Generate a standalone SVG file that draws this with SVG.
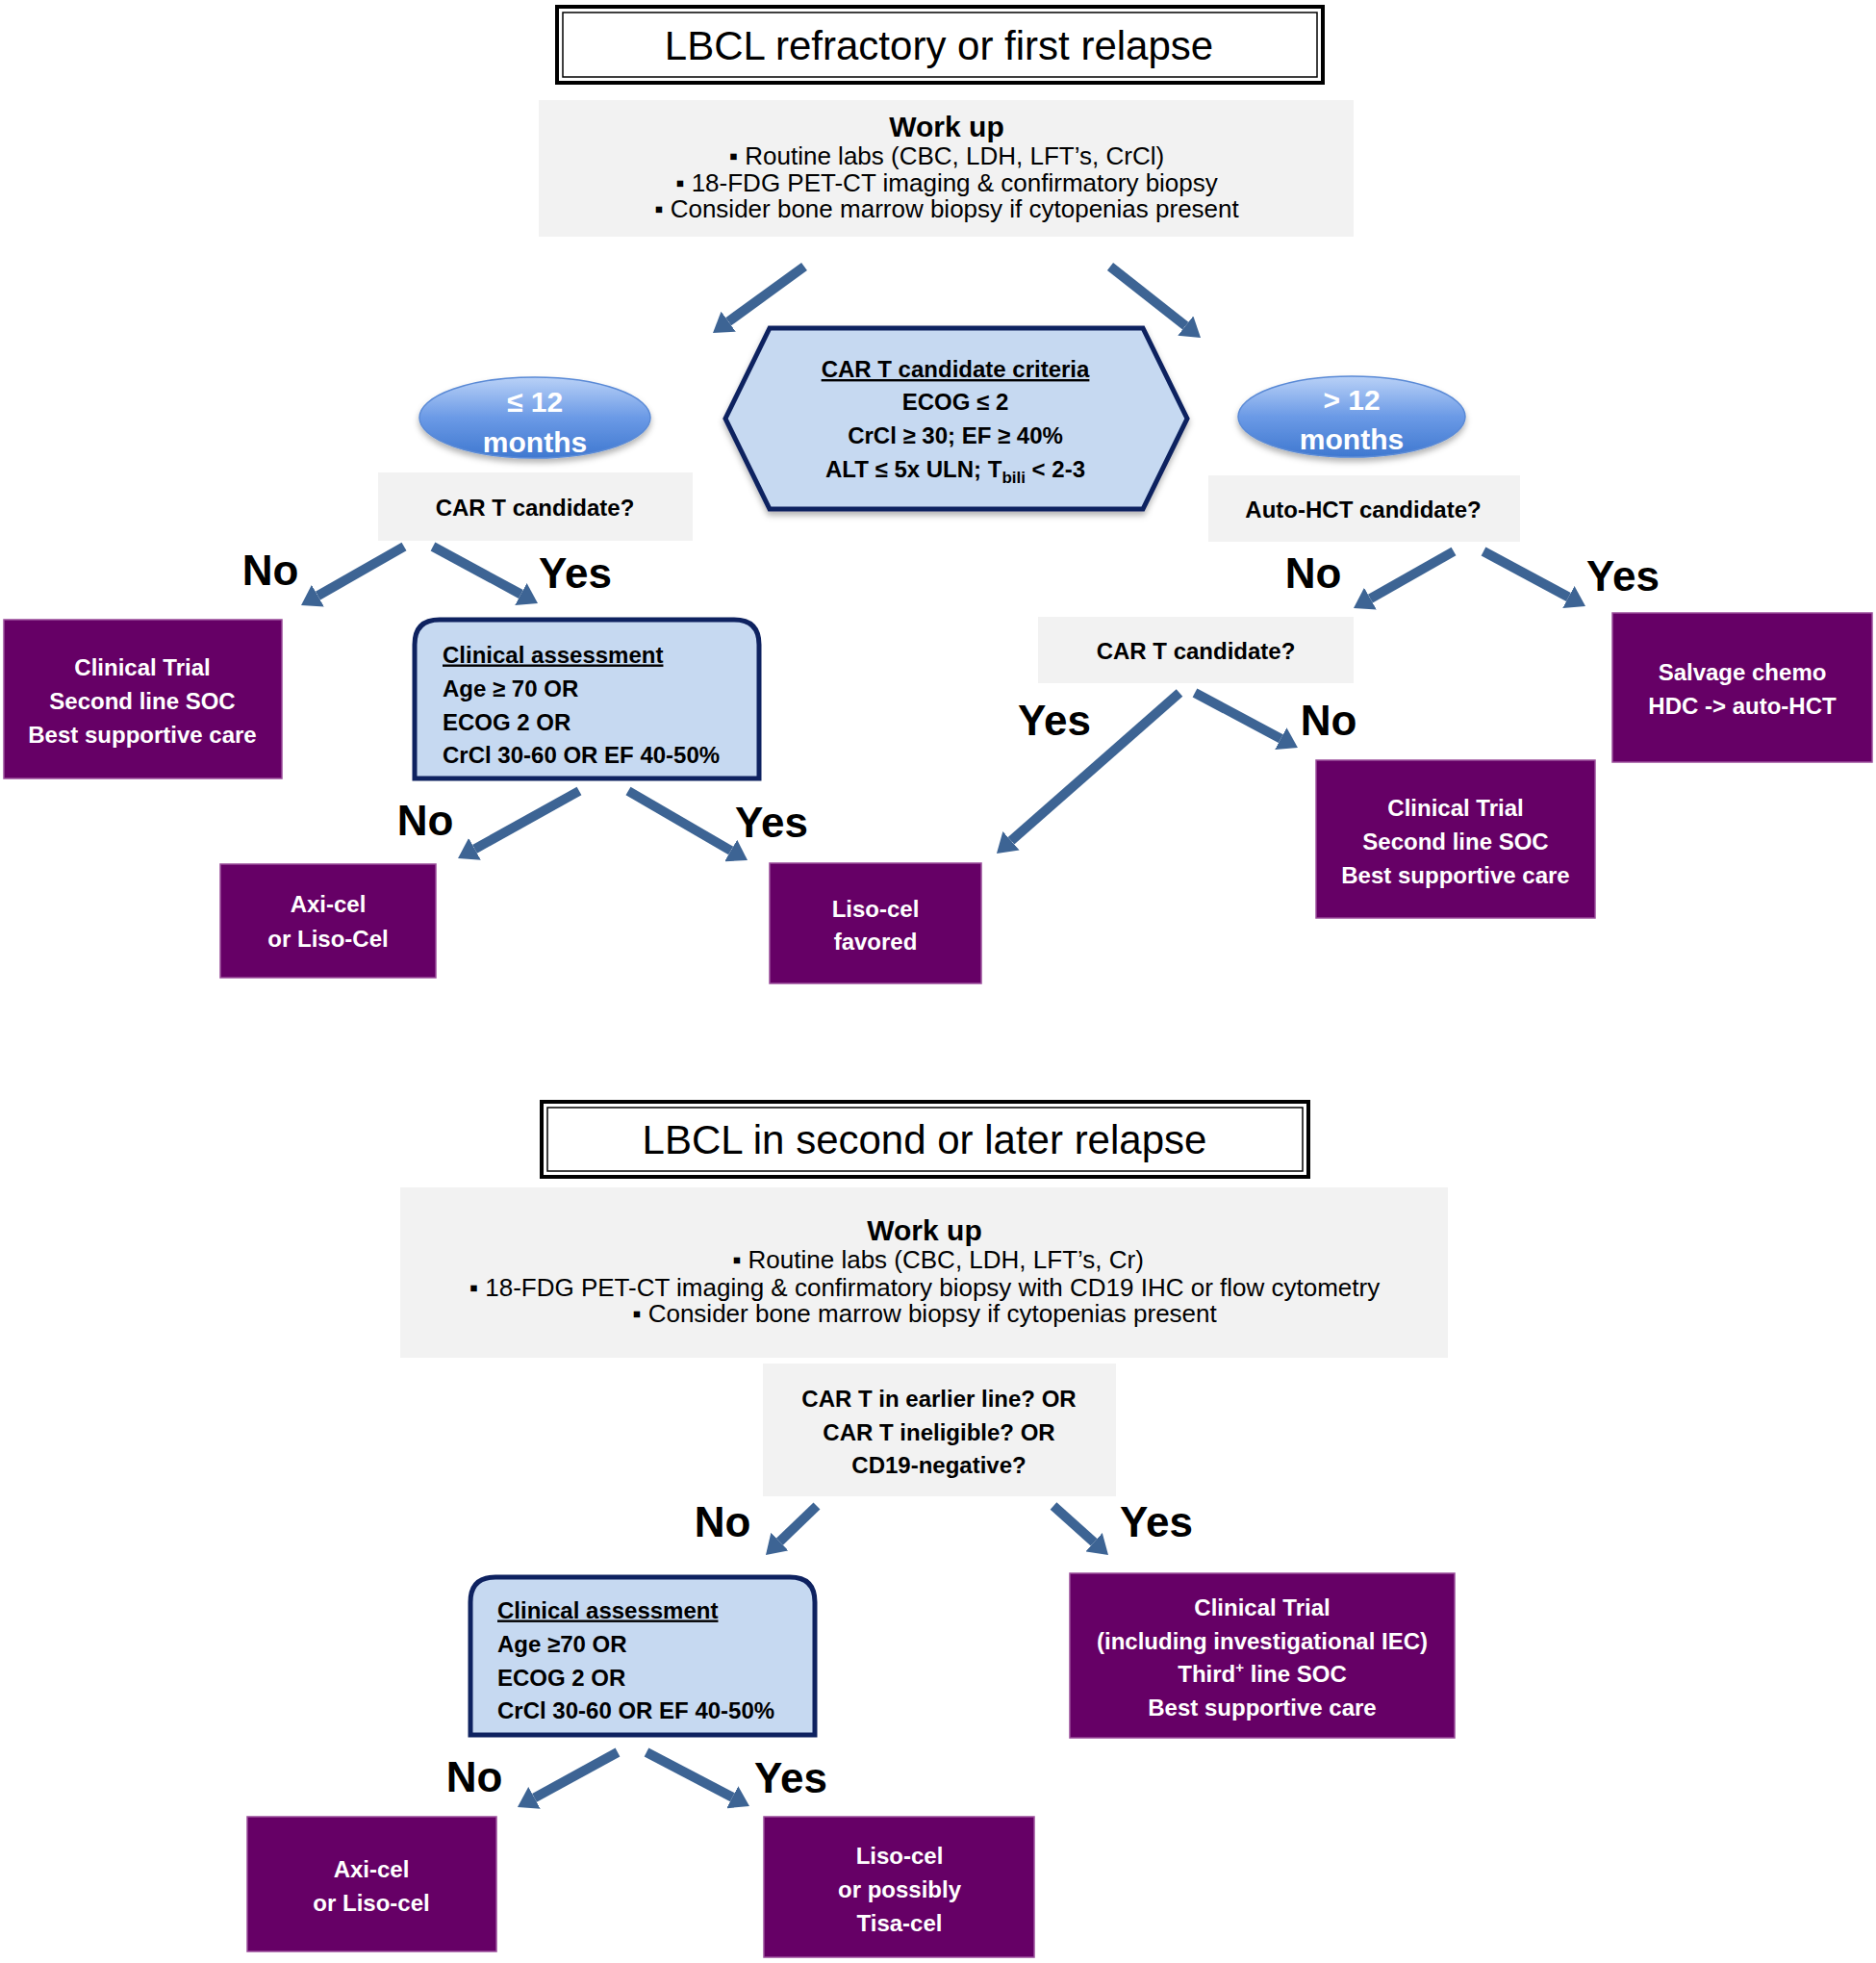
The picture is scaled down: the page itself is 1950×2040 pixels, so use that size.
<svg xmlns="http://www.w3.org/2000/svg" width="1950" height="2040" viewBox="0 0 1950 2040">
<style>
text{font-family:"Liberation Sans",Arial,sans-serif;}
.t{font-size:24px;font-weight:bold;fill:#000;}
.w{font-size:24px;font-weight:bold;fill:#fff;text-anchor:middle;}
.c{text-anchor:middle;}
.lbl{font-size:44px;font-weight:bold;fill:#000;text-anchor:middle;}
.ttl{font-size:42px;fill:#000;text-anchor:middle;}
.wu{font-size:26px;fill:#000;text-anchor:middle;}
.wuh{font-size:30px;font-weight:bold;fill:#000;text-anchor:middle;}
.el{font-size:30px;font-weight:bold;fill:#fff;text-anchor:middle;}
.gray{fill:#f2f2f2;}
.purple{fill:#660066;stroke:#9b4d9b;stroke-width:1.5;}
.blue{fill:#c6d9f1;stroke:#0e2260;stroke-width:5;}
.arr{stroke:#3d6494;stroke-width:10;fill:none;marker-end:url(#ah);}
.u{text-decoration:underline;}
</style>
<defs>
<marker id="ah" markerUnits="userSpaceOnUse" markerWidth="20" markerHeight="26" refX="0" refY="13" orient="auto" viewBox="0 0 20 26">
<path d="M0,0 L20,13 L0,26 Z" fill="#3d6494"/>
</marker>
<linearGradient id="eg" x1="0" y1="0" x2="0" y2="1">
<stop offset="0" stop-color="#b9d1f7"/>
<stop offset="0.5" stop-color="#6b9ae6"/>
<stop offset="1" stop-color="#3f78d0"/>
</linearGradient>
<filter id="sh" x="-10%" y="-10%" width="120%" height="130%">
<feDropShadow dx="0" dy="4" stdDeviation="3" flood-color="#000" flood-opacity="0.3"/>
</filter>
</defs>

<g id="connectors">
<line class="arr" x1="836" y1="277" x2="757.2" y2="334.2"/>
<line class="arr" x1="1154" y1="277" x2="1232.3" y2="338.6"/>
<line class="arr" x1="420" y1="568" x2="330.4" y2="619.1"/>
<line class="arr" x1="450" y1="568" x2="541.4" y2="617.5"/>
<line class="arr" x1="602" y1="822" x2="493.5" y2="882.3"/>
<line class="arr" x1="653" y1="822" x2="759.7" y2="884"/>
<line class="arr" x1="1511" y1="573" x2="1424.4" y2="622.1"/>
<line class="arr" x1="1542" y1="573" x2="1630.4" y2="620.5"/>
<line class="arr" x1="1226" y1="720" x2="1051" y2="873.8"/>
<line class="arr" x1="1242" y1="720" x2="1331.3" y2="767.6"/>
<line class="arr" x1="849" y1="1565" x2="810.4" y2="1602.1"/>
<line class="arr" x1="1095" y1="1565" x2="1137.1" y2="1602.7"/>
<line class="arr" x1="642" y1="1821" x2="555.5" y2="1868.4"/>
<line class="arr" x1="672" y1="1821" x2="761.3" y2="1867.7"/>
<text class="lbl" x="281" y="607.5">No</text>
<text class="lbl" x="598" y="610.5">Yes</text>
<text class="lbl" x="442" y="868">No</text>
<text class="lbl" x="802" y="869.5">Yes</text>
<text class="lbl" x="1365" y="610.5">No</text>
<text class="lbl" x="1687" y="613.5">Yes</text>
<text class="lbl" x="1096" y="763.5">Yes</text>
<text class="lbl" x="1381" y="763.5">No</text>
<text class="lbl" x="751" y="1596.5">No</text>
<text class="lbl" x="1202" y="1596.5">Yes</text>
<text class="lbl" x="493" y="1861.5">No</text>
<text class="lbl" x="822" y="1862.5">Yes</text>
</g>

<g id="title1">
<rect x="579" y="7" width="796" height="79" fill="#fff" stroke="#000" stroke-width="4"/>
<rect x="585" y="13" width="784" height="67" fill="none" stroke="#000" stroke-width="1.5"/>
<text class="ttl" x="976" y="62">LBCL refractory or first relapse</text>
</g>

<g id="workup1">
<rect class="gray" x="560" y="104" width="847" height="142"/>
<text class="wuh" x="984" y="142">Work up</text>
<text class="wu" x="984" y="171">▪ Routine labs (CBC, LDH, LFT’s, CrCl)</text>
<text class="wu" x="984" y="199">▪ 18-FDG PET-CT imaging &amp; confirmatory biopsy</text>
<text class="wu" x="984" y="226">▪ Consider bone marrow biopsy if cytopenias present</text>
</g>

<g id="criteria">
<polygon class="blue" filter="url(#sh)" points="800,341 1188,341 1234,435 1188,529 800,529 754,435"/>
<text class="t c u" x="993" y="392">CAR T candidate criteria</text>
<text class="t c" x="993" y="426">ECOG ≤ 2</text>
<text class="t c" x="993" y="461">CrCl ≥ 30; EF ≥ 40%</text>
<text class="t c" x="993" y="496">ALT ≤ 5x ULN; T<tspan font-size="17" dy="6">bili</tspan><tspan dy="-6"> &lt; 2-3</tspan></text>
</g>

<g id="le12">
<ellipse cx="556" cy="434" rx="120" ry="42" fill="url(#eg)" stroke="#5a8ad6" stroke-width="1.5" filter="url(#sh)"/>
<text class="el" x="556" y="428">≤ 12</text>
<text class="el" x="556" y="470">months</text>
</g>

<g id="gt12">
<ellipse cx="1405" cy="433" rx="118" ry="42" fill="url(#eg)" stroke="#5a8ad6" stroke-width="1.5" filter="url(#sh)"/>
<text class="el" x="1405" y="426">&gt; 12</text>
<text class="el" x="1405" y="467">months</text>
</g>

<g id="cart-q1">
<rect class="gray" x="393" y="491" width="327" height="71"/>
<text class="t c" x="556" y="535.5">CAR T candidate?</text>
</g>

<g id="autohct-q">
<rect class="gray" x="1256" y="494" width="324" height="69"/>
<text class="t c" x="1417" y="537.5">Auto-HCT candidate?</text>
</g>

<g id="trial1">
<rect class="purple" x="4" y="644" width="289" height="165"/>
<text class="w" x="148" y="702">Clinical Trial</text>
<text class="w" x="148" y="737">Second line SOC</text>
<text class="w" x="148" y="772">Best supportive care</text>
</g>

<g id="assess1">
<path class="blue" d="M431,809 L431,670 Q431,644 457,644 L763,644 Q789,644 789,670 L789,809 Z"/>
<text class="t u" x="460" y="688.5">Clinical assessment</text>
<text class="t" x="460" y="723.5">Age ≥ 70 OR</text>
<text class="t" x="460" y="758.5">ECOG 2 OR</text>
<text class="t" x="460" y="792.5">CrCl 30-60 OR EF 40-50%</text>
</g>

<g id="axicel1">
<rect class="purple" x="229" y="898" width="224" height="118"/>
<text class="w" x="341" y="948">Axi-cel</text>
<text class="w" x="341" y="984">or Liso-Cel</text>
</g>

<g id="lisocel1">
<rect class="purple" x="800" y="897" width="220" height="125"/>
<text class="w" x="910" y="952.5">Liso-cel</text>
<text class="w" x="910" y="986.5">favored</text>
</g>

<g id="salvage">
<rect class="purple" x="1676" y="637" width="270" height="155"/>
<text class="w" x="1811" y="706.5">Salvage chemo</text>
<text class="w" x="1811" y="741.5">HDC -&gt; auto-HCT</text>
</g>

<g id="cart-q2">
<rect class="gray" x="1079" y="641" width="328" height="69"/>
<text class="t c" x="1243" y="684.5">CAR T candidate?</text>
</g>

<g id="trial2">
<rect class="purple" x="1368" y="790" width="290" height="164"/>
<text class="w" x="1513" y="847.5">Clinical Trial</text>
<text class="w" x="1513" y="882.5">Second line SOC</text>
<text class="w" x="1513" y="917.5">Best supportive care</text>
</g>

<g id="title2">
<rect x="563" y="1145" width="797" height="78" fill="#fff" stroke="#000" stroke-width="4"/>
<rect x="569" y="1151" width="785" height="66" fill="none" stroke="#000" stroke-width="1.5"/>
<text class="ttl" x="961" y="1199">LBCL in second or later relapse</text>
</g>

<g id="workup2">
<rect class="gray" x="416" y="1234" width="1089" height="177"/>
<text class="wuh" x="961" y="1289">Work up</text>
<text class="wu" x="975" y="1318">▪ Routine labs (CBC, LDH, LFT’s, Cr)</text>
<text class="wu" x="961" y="1347">▪ 18-FDG PET-CT imaging &amp; confirmatory biopsy with CD19 IHC or flow cytometry</text>
<text class="wu" x="961" y="1374">▪ Consider bone marrow biopsy if cytopenias present</text>
</g>

<g id="earlier-q">
<rect class="gray" x="793" y="1417" width="367" height="138"/>
<text class="t c" x="976" y="1461.5">CAR T in earlier line? OR</text>
<text class="t c" x="976" y="1496.5">CAR T ineligible? OR</text>
<text class="t c" x="976" y="1530.5">CD19-negative?</text>
</g>

<g id="assess2">
<path class="blue" d="M489,1803 L489,1665 Q489,1639 515,1639 L821,1639 Q847,1639 847,1665 L847,1803 Z"/>
<text class="t u" x="517" y="1681.5">Clinical assessment</text>
<text class="t" x="517" y="1716.5">Age ≥70 OR</text>
<text class="t" x="517" y="1751.5">ECOG 2 OR</text>
<text class="t" x="517" y="1785.5">CrCl 30-60 OR EF 40-50%</text>
</g>

<g id="trial3">
<rect class="purple" x="1112" y="1635" width="400" height="171"/>
<text class="w" x="1312" y="1678.5">Clinical Trial</text>
<text class="w" x="1312" y="1713.5">(including investigational IEC)</text>
<text class="w" x="1312" y="1747.5">Third<tspan font-size="15" dy="-10">+</tspan><tspan dy="10"> line SOC</tspan></text>
<text class="w" x="1312" y="1782.5">Best supportive care</text>
</g>

<g id="axicel2">
<rect class="purple" x="257" y="1888" width="259" height="140"/>
<text class="w" x="386" y="1950.5">Axi-cel</text>
<text class="w" x="386" y="1985.5">or Liso-cel</text>
</g>

<g id="lisocel2">
<rect class="purple" x="794" y="1888" width="281" height="146"/>
<text class="w" x="935" y="1936.5">Liso-cel</text>
<text class="w" x="935" y="1971.5">or possibly</text>
<text class="w" x="935" y="2006.5">Tisa-cel</text>
</g>
</svg>
